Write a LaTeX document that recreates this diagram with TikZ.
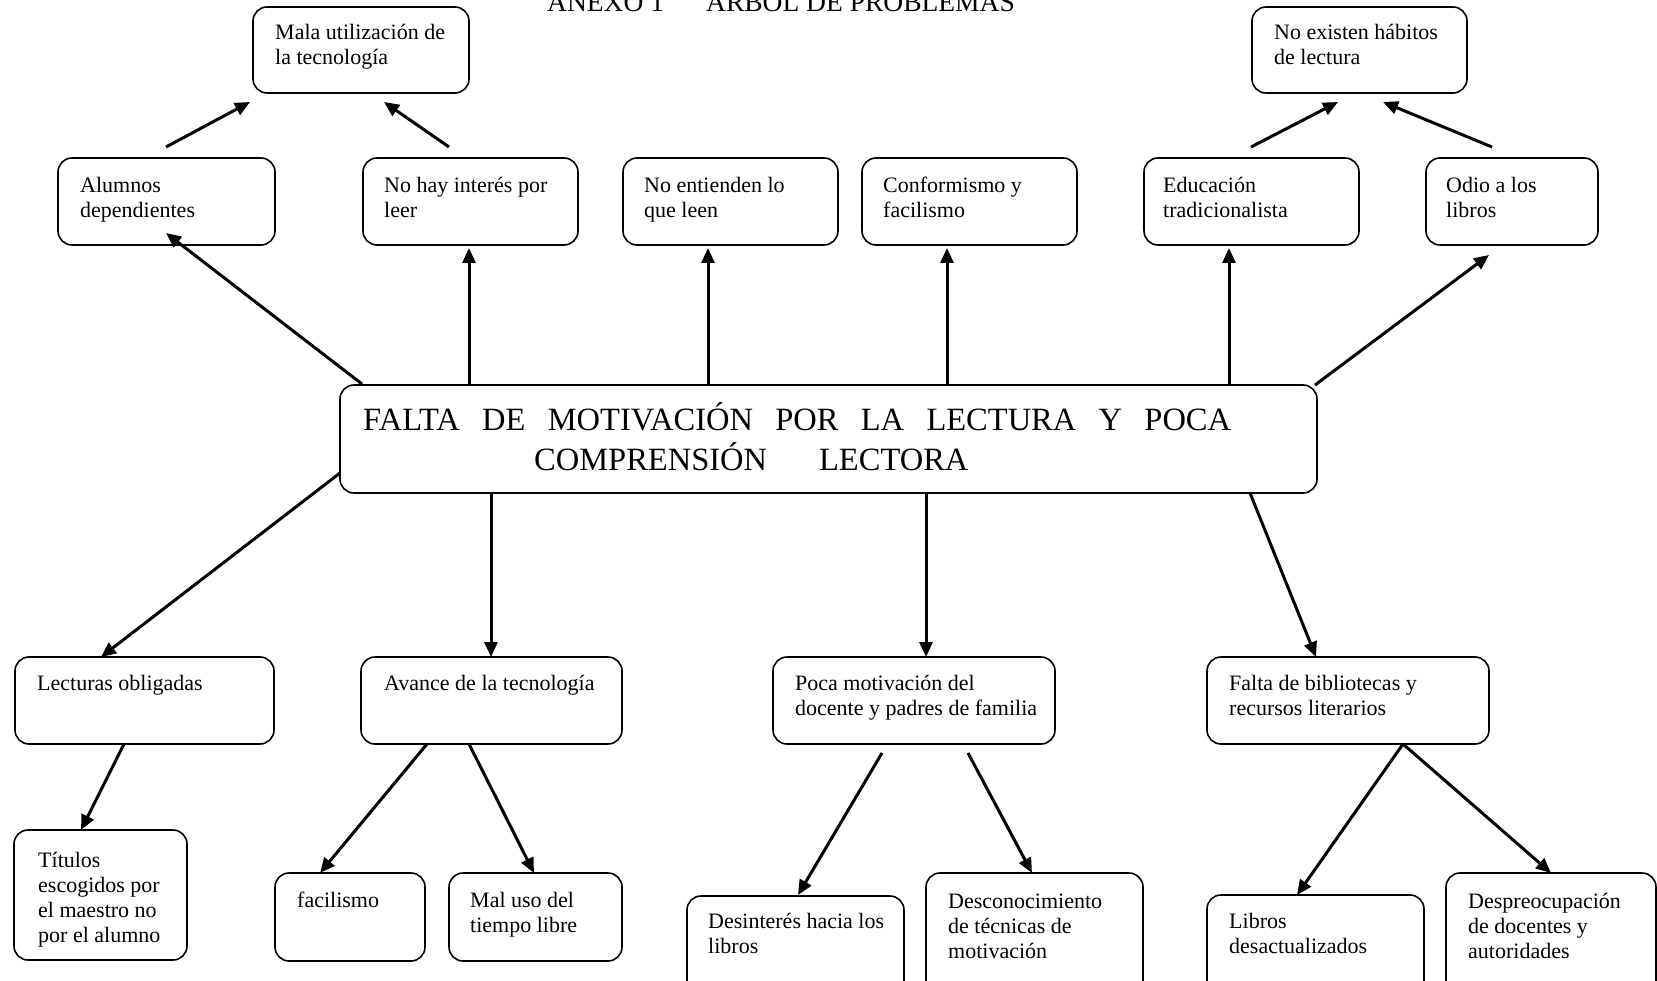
\documentclass[tikz,border=0pt]{standalone}
\usepackage{fontspec}
\setmainfont{Liberation Serif}
\usetikzlibrary{arrows.meta,calc}
\newcommand{\fs}{\fontsize{22}{25}\selectfont}
\newcommand{\probbox}[8]{%
  \node[pbox, minimum width={#4-#2}, minimum height={#5-#3}] (#1) at (#2,#3) {};
  \node[ptext] (#1-t) at (#6,{#7-17.5}) {\strut#8};
}
\tikzset{
  pbox/.style={draw, rectangle, rounded corners=14pt, line width=1.6pt, inner sep=0pt, outer sep=0pt, anchor=north west},
  ptext/.style={anchor=north west, inner sep=0pt, align=left, font=\fs},
  arr/.style={line width=3pt, -{Triangle[length=15pt,width=13pt]}}
}
\begin{document}
\begin{tikzpicture}[x=1pt,y=-1pt]
\useasboundingbox (0,0) rectangle (1657,981);
\fill[white] (0,0) rectangle (1657,981);
\clip (0,0) rectangle (1657,981);

\node[anchor=base west, inner sep=0pt, font=\fontsize{27.5}{30}\selectfont] (title) at (547,12) {ANEXO\hspace{7pt}1\hspace{42pt}ÁRBOL DE PROBLEMAS};

% top boxes
\probbox{mala}{253}{7}{469}{93}{275}{39}{Mala utilización de\\la tecnología}
\probbox{noexisten}{1252}{7}{1467}{93}{1274}{39}{No existen hábitos\\de lectura}

% row 2
\probbox{alumnos}{58}{158}{275}{245}{80}{192}{Alumnos\\dependientes}
\probbox{nohay}{363}{158}{578}{245}{384}{192}{No hay interés por\\leer}
\probbox{noentienden}{623}{158}{838}{245}{644}{192}{No entienden lo\\que leen}
\probbox{conformismo}{862}{158}{1077}{245}{883}{192}{Conformismo y\\facilismo}
\probbox{educacion}{1144}{158}{1359}{245}{1163}{192}{Educación\\tradicionalista}
\probbox{odio}{1426}{158}{1598}{245}{1446}{192}{Odio a los\\libros}

% central
\node[pbox, minimum width=977, minimum height=108] (central) at (340,385) {};
\node[anchor=base west, inner sep=0pt, align=left, font=\fontsize{32.5}{40}\selectfont] (central-t) at (363,470)
  {\makebox[868pt][s]{FALTA DE MOTIVACIÓN POR LA LECTURA Y POCA}\\\hspace*{171pt}COMPRENSIÓN\hspace{52pt}LECTORA};

% bottom row 1
\probbox{lecturas}{15}{657}{274}{744}{37}{690}{Lecturas obligadas}
\probbox{avance}{361}{657}{622}{744}{384}{690}{Avance de la tecnología}
\probbox{poca}{773}{657}{1055}{744}{795}{690}{Poca motivación del\\docente y padres de familia}
\probbox{falta}{1207}{657}{1489}{744}{1229}{690}{Falta de bibliotecas y\\recursos literarios}

% bottom row 2
\probbox{titulos}{14}{830}{187}{960}{38}{867}{Títulos\\escogidos por\\el maestro no\\por el alumno}
\probbox{facilismo}{275}{873}{425}{961}{297}{907}{facilismo}
\probbox{maluso}{449}{873}{622}{961}{470}{907}{Mal uso del\\tiempo libre}
\probbox{desinteres}{687}{896}{904}{1010}{708}{928}{Desinterés hacia los\\libros}
\probbox{desconocimiento}{926}{873}{1143}{1010}{948}{908}{Desconocimiento\\de técnicas de\\motivación}
\probbox{libros}{1207}{895}{1424}{1010}{1229}{928}{Libros\\desactualizados}
\probbox{despreocupacion}{1446}{873}{1656}{1010}{1468}{908}{Despreocupación\\de docentes y\\autoridades}

% arrows to top boxes
\draw[arr] ($(alumnos.north west)+(108,-11)$) -- ($(mala.south west)+(-3,9)$);
\draw[arr] ($(nohay.north west)+(86,-11)$) -- ($(mala.south west)+(131,9)$);
\draw[arr] ($(educacion.north west)+(107,-11)$) -- ($(noexisten.south west)+(86,9)$);
\draw[arr] ($(odio.north west)+(66,-11)$) -- ($(noexisten.south west)+(131,9)$);

% central to row 2
\draw[arr] ($(central.north west)+(22,-1)$) -- ($(alumnos.south west)+(108,-12)$);
\draw[arr] ($(central.north west)+(129,0)$) -- ($(nohay.south west)+(106,3)$);
\draw[arr] ($(central.north west)+(368,0)$) -- ($(noentienden.south west)+(85,3)$);
\draw[arr] ($(central.north west)+(607,0)$) -- ($(conformismo.south west)+(85,3)$);
\draw[arr] ($(central.north west)+(889,0)$) -- ($(educacion.south west)+(85,3)$);
\draw[arr] ($(central.north east)+(-2,0)$) -- ($(odio.south west)+(63,10)$);

% central to bottom row
\draw[arr] ($(central.south west)+(0,-20)$) -- ($(lecturas.north west)+(86,0)$);
\draw[arr] ($(central.south west)+(151,0)$) -- ($(avance.north west)+(130,0)$);
\draw[arr] ($(central.south west)+(586,0)$) -- ($(poca.north west)+(153,0)$);
\draw[arr] ($(central.south west)+(910,0)$) -- ($(falta.north west)+(109,0)$);

% bottom sub-arrows
\draw[arr] ($(lecturas.south west)+(109,0)$) -- ($(titulos.north west)+(67,0)$);
\draw[arr] ($(avance.south west)+(66,0)$) -- ($(facilismo.north west)+(45,0)$);
\draw[arr] ($(avance.south west)+(108,0)$) -- ($(maluso.north west)+(85,0)$);
\draw[arr] ($(poca.south west)+(109,9)$) -- ($(desinteres.north west)+(111,-1)$);
\draw[arr] ($(poca.south west)+(195,9)$) -- ($(desconocimiento.north west)+(106,0)$);
\draw[arr] ($(falta.south west)+(196,0)$) -- ($(libros.north west)+(90,0)$);
\draw[arr] ($(falta.south west)+(196,0)$) -- ($(despreocupacion.north west)+(105,0)$);
\end{tikzpicture}
\end{document}
